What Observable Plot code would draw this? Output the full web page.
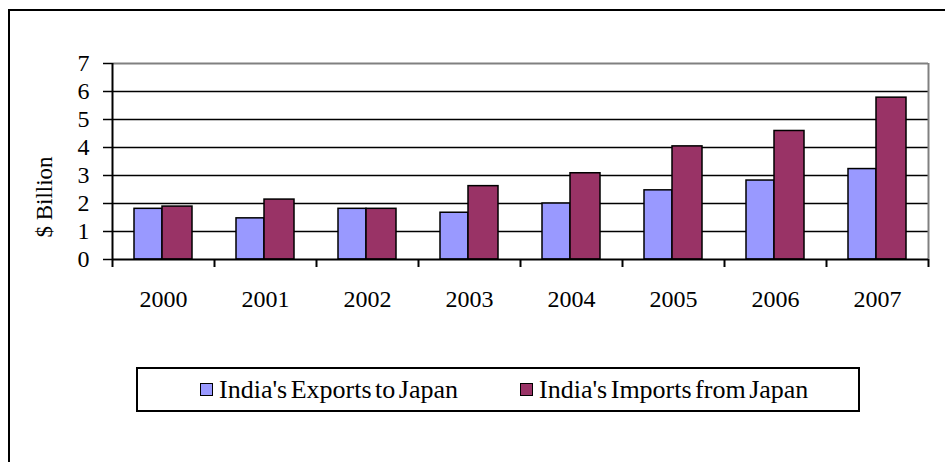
<!DOCTYPE html>
<html>
<head>
<meta charset="utf-8">
<script src="https://cdn.jsdelivr.net/npm/d3@7"></script>
<script src="https://cdn.jsdelivr.net/npm/@observablehq/plot@0.6"></script>
<style>
  body { margin: 0; background: #fff; }
  #wrap { position: relative; width: 945px; height: 462px; overflow: hidden;
          font-family: "Liberation Serif", "Times New Roman", serif; background: #fff; }
  #frame { position: absolute; left: 8px; top: 9px; width: 2000px; height: 2000px;
           border-left: 2px solid #000; border-top: 2px solid #000; }
  #chart { position: absolute; left: 0; top: 0; }
  #ylabel { position: absolute; left: 45px; top: 197px; font-size: 23px; color: #000;
            white-space: nowrap; transform: translate(-50%, -50%) rotate(-90deg); }
  #legend { position: absolute; left: 136px; top: 367px; width: 720px; height: 41px;
            border: 2px solid #000; background: #fff; }
  .item { position: absolute; top: 50%; transform: translateY(-50%); display: flex; align-items: center;
          font-size: 26px; color: #000; white-space: nowrap; word-spacing: -3px; }
  .sw { width: 11px; height: 11px; border: 1.5px solid #000; margin-right: 6px; }
</style>
</head>
<body>
<div id="wrap">
  <div id="frame"></div>
  <div id="chart"></div>
  <div id="ylabel"></div>
  <div id="legend"></div>
</div>
<script>
const years = ["2000", "2001", "2002", "2003", "2004", "2005", "2006", "2007"];
const exportsToJapan = [1.81, 1.47, 1.81, 1.67, 2.0, 2.47, 2.82, 3.23];
const importsFromJapan = [1.89, 2.14, 1.81, 2.62, 3.08, 4.04, 4.59, 5.78];
const seriesNames = ["India's Exports to Japan", "India's Imports from Japan"];
const seriesColors = ["#9999FF", "#993366"];
const yTicks = [0, 1, 2, 3, 4, 5, 6, 7];
const yLabel = "$ Billion";

const exportRows = years.map((year, i) => ({year, series: seriesNames[0], value: exportsToJapan[i]}));
const importRows = years.map((year, i) => ({year, series: seriesNames[1], value: importsFromJapan[i]}));

const serif = "'Liberation Serif', 'Times New Roman', serif";

const chart = Plot.plot({
  width: 945,
  height: 320,
  marginTop: 63,
  marginBottom: 61,
  marginLeft: 112,
  marginRight: 17,
  style: {fontFamily: serif, fontSize: "24px", background: "transparent", color: "#000"},
  x: {type: "band", domain: years, padding: 0, label: null},
  y: {domain: [0, 7], label: null},
  marks: [
    Plot.ruleY(yTicks.slice(1, -1), {stroke: "#000", strokeWidth: 1.5}),
    Plot.ruleY(yTicks.slice(-1), {stroke: "#808080", strokeWidth: 2}),
    Plot.ruleX(years.slice(-1), {x: d => d, dx: 51, stroke: "#808080", strokeWidth: 2}),
    Plot.barY(exportRows, {x: "year", y: "value", fill: seriesColors[0], stroke: "#000", strokeWidth: 1.5, insetLeft: 22, insetRight: 52}),
    Plot.barY(importRows, {x: "year", y: "value", fill: seriesColors[1], stroke: "#000", strokeWidth: 1.5, insetLeft: 50, insetRight: 22}),
    Plot.ruleY([0], {stroke: "#000", strokeWidth: 2}),
    Plot.ruleX(years.slice(0, 1), {x: d => d, dx: -51, stroke: "#000", strokeWidth: 2}),
    Plot.axisY(yTicks, {tickSize: 9, tickPadding: 14, fontSize: 24, strokeWidth: 1.5, label: null}),
    Plot.axisX({tickSize: 0, tickPadding: 30, fontSize: 24, label: null}),
    Plot.axisX(years, {tickSize: 8, dx: -51, strokeWidth: 2, tickFormat: () => "", label: null}),
    Plot.axisX(years.slice(-1), {tickSize: 8, dx: 51, strokeWidth: 2, tickFormat: () => "", label: null})
  ]
});
document.getElementById("chart").appendChild(chart);
document.getElementById("ylabel").textContent = yLabel;

const legend = document.getElementById("legend");
const itemLefts = [62, 382];
seriesNames.forEach((name, i) => {
  const item = document.createElement("div");
  item.className = "item";
  item.style.left = itemLefts[i] + "px";
  const sw = document.createElement("div");
  sw.className = "sw";
  sw.style.background = seriesColors[i];
  const label = document.createElement("span");
  label.textContent = name;
  item.appendChild(sw);
  item.appendChild(label);
  legend.appendChild(item);
});
</script>
</body>
</html>
